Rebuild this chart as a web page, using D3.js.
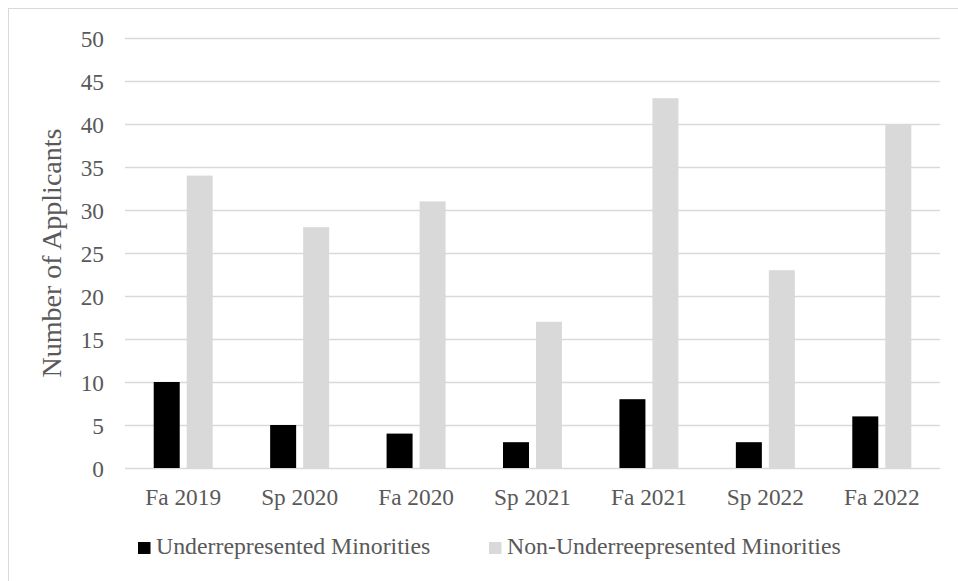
<!DOCTYPE html>
<html>
<head>
<meta charset="utf-8">
<script src="https://cdn.jsdelivr.net/npm/d3@7"></script>
<style>
  html, body { margin: 0; padding: 0; background: #fff; }
  svg { display: block; }
  text { font-family: "Liberation Serif", "Times New Roman", serif; fill: #595959; }
</style>
</head>
<body>
<div id="chart"></div>
<script>
// terms on the x axis
var terms = ['Fa 2019', 'Sp 2020', 'Fa 2020', 'Sp 2021', 'Fa 2021', 'Sp 2022', 'Fa 2022'];
// applicants per term
var urm = [10, 5, 4, 3, 8, 3, 6];
var nonUrm = [34, 28, 31, 17, 43, 23, 40];
var seriesNames = ['Underrepresented Minorities', 'Non-Underreepresented Minorities'];
var seriesColors = ['#000000', '#d9d9d9'];
var yTicks = [0, 5, 10, 15, 20, 25, 30, 35, 40, 45, 50];

var width = 958, height = 581;
var plot = { left: 125, right: 940, top: 38, bottom: 468 };

var svg = d3.select('#chart').append('svg')
    .attr('width', width)
    .attr('height', height);

// outer chart frame (runs off the right and bottom edge)
svg.append('rect')
    .attr('x', 8.5).attr('y', 8.5)
    .attr('width', 1000).attr('height', 700)
    .attr('fill', 'none')
    .attr('stroke', '#d9d9d9')
    .attr('stroke-width', 1);

var y = d3.scaleLinear()
    .domain([0, 50])
    .range([plot.bottom, plot.top]);

var x0 = d3.scaleBand()
    .domain(terms)
    .range([plot.left, plot.right])
    .paddingInner(0.4933)
    .paddingOuter(0.4933 / 2);

var x1 = d3.scaleBand()
    .domain([0, 1])
    .range([0, x0.bandwidth()])
    .paddingInner(0.212);

// gridlines + y labels
var yAxis = svg.append('g')
    .attr('transform', 'translate(' + plot.left + ',0)')
    .call(d3.axisLeft(y)
        .tickValues(yTicks)
        .tickSize(-(plot.right - plot.left))
        .tickPadding(21));

yAxis.select('.domain').remove();
yAxis.selectAll('line')
    .attr('stroke', '#d9d9d9')
    .attr('stroke-width', 1.3);
yAxis.selectAll('text')
    .attr('font-size', '23.3px')
    .attr('dy', '0.36em')
    .style('font-family', '"Liberation Serif", "Times New Roman", serif')
    .style('fill', '#595959');

// bars
var data = terms.map(function(t, i) {
    return { term: t, values: [urm[i], nonUrm[i]] };
});

var groups = svg.append('g').selectAll('g')
    .data(data)
    .join('g')
    .attr('transform', function(d) { return 'translate(' + x0(d.term) + ',0)'; });

groups.selectAll('rect')
    .data(function(d) { return d.values.map(function(v, k) { return { k: k, v: v }; }); })
    .join('rect')
    .attr('x', function(d) { return x1(d.k); })
    .attr('y', function(d) { return y(d.v); })
    .attr('width', x1.bandwidth())
    .attr('height', function(d) { return y(0) - y(d.v); })
    .attr('fill', function(d) { return seriesColors[d.k]; });

// x labels
var xAxis = svg.append('g')
    .attr('transform', 'translate(0,' + plot.bottom + ')')
    .call(d3.axisBottom(x0).tickSize(0).tickPadding(20));

xAxis.select('.domain').remove();
xAxis.selectAll('text')
    .attr('font-size', '23.3px')
    .attr('dy', '0.71em')
    .style('font-family', '"Liberation Serif", "Times New Roman", serif')
    .style('fill', '#595959');

// y axis title
svg.append('text')
    .attr('transform', 'translate(61,253) rotate(-90)')
    .attr('text-anchor', 'middle')
    .attr('font-size', '28px')
    .text('Number of Applicants');

// legend
var legendX = [138, 489];
var legend = svg.append('g').selectAll('g')
    .data(seriesNames)
    .join('g')
    .attr('transform', function(d, i) { return 'translate(' + legendX[i] + ',542)'; });

legend.append('rect')
    .attr('width', 12.5)
    .attr('height', 12)
    .attr('fill', function(d, i) { return seriesColors[i]; });

legend.append('text')
    .attr('x', 18)
    .attr('y', 12)
    .attr('font-size', '23.8px')
    .text(function(d) { return d; });
</script>
</body>
</html>
